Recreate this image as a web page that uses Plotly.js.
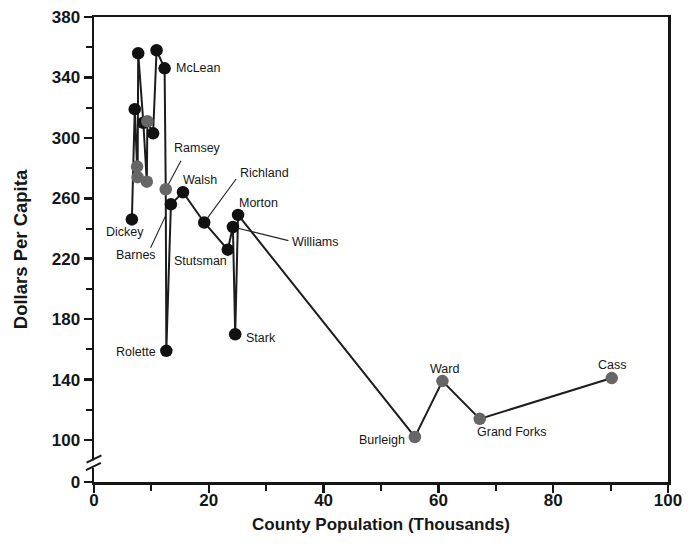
<!DOCTYPE html>
<html>
<head>
<meta charset="utf-8">
<script src="https://cdn.plot.ly/plotly-3.0.1.min.js"></script>
<style>html,body{margin:0;padding:0;background:#fff;}#chart{width:699px;height:544px;}</style>
</head>
<body>
<div id="chart"></div>
<script>
// ---- data ----
const counties   = ["Dickey","","","","","","","","","","McLean","Ramsey","Rolette","Barnes","Walsh","Richland","Stutsman","Williams","Stark","Morton","Burleigh","Ward","Grand Forks","Cass"];
const population = [6.6, 7.1, 7.5, 7.6, 7.7, 8.6, 9.2, 9.3, 10.3, 10.9, 12.3, 12.5, 12.6, 13.4, 15.5, 19.2, 23.3, 24.2, 24.6, 25.1, 55.9, 60.7, 67.2, 90.2];
const dollars    = [246, 319, 281, 274, 356, 310, 271, 311, 303, 358, 346, 266, 159, 256, 264, 244, 226, 241, 170, 249, 102, 139, 114, 141];
const shade      = ["b","b","g","g","b","b","g","g","b","b","b","g","b","b","b","b","b","b","b","b","g","g","g","g"];
const yTickVals  = [72.2, 100, 140, 180, 220, 260, 300, 340, 380];
const yTickText  = ["0", "100", "140", "180", "220", "260", "300", "340", "380"];
const yMinorVals = [120, 160, 200, 240, 280, 320, 360];
const xTickVals  = [0, 20, 40, 60, 80, 100];
const xMinorVals = [10, 30, 50, 70, 90];

// ---- label placement (pixel offsets) ----
const place = {
  "Dickey":      {xs:-7,  ys:-13, xa:"center"},
  "McLean":      {xs:9,   ys:0,   xa:"left"},
  "Ramsey":      {xs:32,  ys:41,  xa:"center", lead:[16,-30,6]},
  "Rolette":     {xs:-8,  ys:-1,  xa:"right"},
  "Barnes":      {xs:-35, ys:-51, xa:"center", lead:[-21,45,13]},
  "Walsh":       {xs:17,  ys:12,  xa:"center"},
  "Richland":    {xs:60,  ys:49,  xa:"center", lead:[33,-45,6]},
  "Stutsman":    {xs:-27, ys:-11, xa:"center"},
  "Williams":    {xs:83,  ys:-15, xa:"center", lead:[57,14,5]},
  "Stark":       {xs:9,   ys:-4,  xa:"left"},
  "Morton":      {xs:20,  ys:12,  xa:"center"},
  "Burleigh":    {xs:-8,  ys:-3,  xa:"right"},
  "Ward":        {xs:2,   ys:12,  xa:"center"},
  "Grand Forks": {xs:-5,  ys:-13, xa:"left"},
  "Cass":        {xs:0,   ys:13,  xa:"center"}
};

const ink = "#161616";
const markerColors = shade.map(s => s === "g" ? "#666666" : "#111111");

const annotations = [];
counties.forEach((name, i) => {
  if (!name || !place[name]) return;
  const p = place[name];
  annotations.push({
    x: population[i], y: dollars[i], xref: "x", yref: "y",
    text: name, showarrow: false, xanchor: p.xa, yanchor: "middle",
    xshift: p.xs, yshift: p.ys,
    font: {family: "Liberation Sans, Arial, sans-serif", size: 12.5, color: ink}
  });
  if (p.lead) {
    annotations.push({
      x: population[i], y: dollars[i], xref: "x", yref: "y",
      text: "", showarrow: true, arrowhead: 0, arrowwidth: 1.1, arrowcolor: "#222",
      ax: p.lead[0], ay: p.lead[1], standoff: p.lead[2]
    });
  }
});

const trace = {
  x: population, y: dollars, type: "scatter", mode: "lines+markers",
  line: {color: "#1c1c1c", width: 2},
  marker: {size: 12.5, color: markerColors, line: {width: 0}},
  hoverinfo: "skip", showlegend: false
};

const tickFont = {family: "Liberation Sans, Arial, sans-serif", size: 17, color: ink, weight: "bold"};

const layout = {
  width: 699, height: 544,
  margin: {l: 94, r: 31, t: 17, b: 62},
  paper_bgcolor: "#fff", plot_bgcolor: "#fff",
  font: {family: "Liberation Sans, Arial, sans-serif", color: ink},
  xaxis: {
    range: [0, 100], showgrid: false, zeroline: false,
    showline: true, linecolor: ink, linewidth: 2.5, mirror: true,
    tickmode: "array", tickvals: xTickVals, ticktext: xTickVals.map(String),
    ticks: "outside", ticklen: 8, tickwidth: 2.5, tickcolor: ink,
    ticklabelstandoff: -7,
    minor: {tickmode: "array", tickvals: xMinorVals, ticks: "outside", ticklen: 6, tickwidth: 2, tickcolor: ink, showgrid: false},
    tickfont: tickFont,
    title: {text: "County Population (Thousands)", font: {family: "Liberation Sans, Arial, sans-serif", size: 17, color: ink, weight: "bold"}, standoff: 9}
  },
  yaxis: {
    range: [72.2, 380], showgrid: false, zeroline: false,
    showline: true, linecolor: ink, linewidth: 2.5, mirror: true,
    tickmode: "array", tickvals: yTickVals, ticktext: yTickText,
    ticks: "outside", ticklen: 8, tickwidth: 2.5, tickcolor: ink,
    minor: {tickmode: "array", tickvals: yMinorVals, ticks: "outside", ticklen: 6, tickwidth: 2, tickcolor: ink, showgrid: false},
    tickfont: tickFont,
    title: {text: "Dollars Per Capita", font: {family: "Liberation Sans, Arial, sans-serif", size: 18.5, color: ink, weight: "bold"}, standoff: 19}
  },
  shapes: [
    {type: "rect", xref: "paper", yref: "y", x0: -0.008, x1: 0.008, y0: 81.5, y1: 86.5, fillcolor: "#fff", line: {width: 0}, layer: "above"},
    {type: "line", xref: "paper", yref: "y", x0: -0.013, x1: 0.013, y0: 85.0, y1: 89.8, line: {color: ink, width: 2}, layer: "above"},
    {type: "line", xref: "paper", yref: "y", x0: -0.014, x1: 0.012, y0: 80.0, y1: 84.8, line: {color: ink, width: 2}, layer: "above"}
  ],
  annotations: annotations
};

Plotly.newPlot("chart", [trace], layout, {displayModeBar: false, staticPlot: true});
</script>
</body>
</html>
